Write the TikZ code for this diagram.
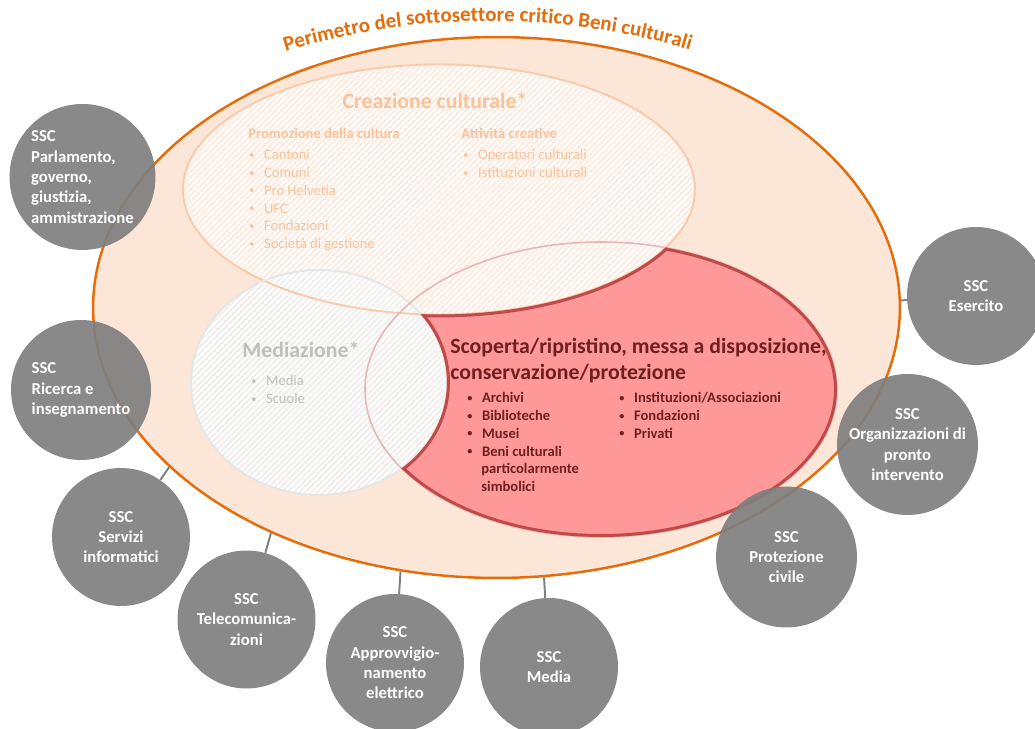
\documentclass[tikz,border=0pt]{standalone}
\usepackage{fontspec}
\setmainfont{Carlito}
\usetikzlibrary{shapes.geometric,patterns.meta,decorations.text}
\definecolor{perimorange}{HTML}{E46C0A}
\definecolor{perimfill}{HTML}{FBE6D8}
\definecolor{creafill}{HTML}{FCEDE2}
\definecolor{crealine}{HTML}{F8CBAD}
\definecolor{creatext}{HTML}{F9C29A}
\definecolor{medfill}{HTML}{F2F2F2}
\definecolor{medline}{HTML}{E6E6E6}
\definecolor{medtext}{HTML}{BFBFBF}
\definecolor{critfill}{HTML}{FF9999}
\definecolor{critline}{HTML}{BF4B48}
\definecolor{crittext}{HTML}{6E1F1F}
\definecolor{sscgray}{HTML}{7F7F7F}
\newcommand{\blt}{\makebox[8.4pt][l]{\raisebox{0.2ex}{\scalebox{0.7}{\textbullet}}}}

\begin{document}
\begin{tikzpicture}[
  x=0.02cm, y=0.02cm,
  ssc/.style={circle, fill=sscgray, fill opacity=0.92, text opacity=1, text=white,
    font=\bfseries\fontsize{9.5}{11.6}\selectfont, align=center, inner sep=0pt, minimum size=2.76cm},
  link/.style={draw=sscgray, line width=1.1pt},
  hatch/.style={pattern={Lines[angle=45,distance=2.4pt,line width=0.9pt]}, pattern color=white},
  creahead/.style={font=\bfseries\fontsize{12.4}{14}\selectfont, text=creatext, inner sep=0pt},
  creasub/.style={font=\bfseries\fontsize{8.3}{10}\selectfont, text=creatext, inner sep=0pt, anchor=base west},
  crealist/.style={font=\fontsize{8.3}{10}\selectfont, text=creatext, inner sep=0pt, anchor=base west},
  medhead/.style={font=\bfseries\fontsize{12.4}{14}\selectfont, text=medtext, inner sep=0pt, anchor=base west},
  medlist/.style={font=\fontsize{8.3}{10}\selectfont, text=medtext, inner sep=0pt, anchor=base west},
  crithead/.style={font=\bfseries\fontsize{12.4}{14}\selectfont, text=crittext, inner sep=0pt, anchor=base west},
  critlist/.style={font=\bfseries\fontsize{8.3}{10}\selectfont, text=crittext, inner sep=0pt, anchor=base west},
]
\useasboundingbox (0,0) rectangle (1035,729);

% perimeter of the sub-sector
\node[ellipse, fill=perimfill, draw=perimorange, line width=1.4pt,
  minimum width=16.14cm, minimum height=10.82cm, inner sep=0pt] (perim) at (496.5,421.5) {};
\path[decorate, decoration={text along path, text align=center, text color=perimorange,
  text={|\bfseries\fontsize{11.9}{14}\selectfont|Perimetro del sottosettore critico Beni culturali}}]
  (490,4) ++(110.2:704) arc[start angle=110.2, end angle=70.2, radius=704];

% creation and mediation
\fill[creafill] (439,539.5) ellipse [x radius=256, y radius=125];
\fill[medfill, fill opacity=0.9] (319,346.5) ellipse [x radius=128, y radius=112.5];
\fill[hatch] (439,539.5) ellipse [x radius=256, y radius=125];
\fill[hatch] (319,346.5) ellipse [x radius=128, y radius=112.5];
\draw[crealine, line width=1.1pt] (439,539.5) ellipse [x radius=256, y radius=125];
\draw[medline, line width=1.1pt] (319,346.5) ellipse [x radius=128, y radius=112.5];
\draw[critline!40, line width=0.9pt] (601,339.5) ellipse [x radius=236, y radius=147.5];

% critical part: red ellipse without the other two
\begin{scope}
  \clip (601,339.5) ellipse [x radius=236, y radius=147.5];
  \clip (0,0) -- (0,729) -- (1035,729) -- (1035,0) -- cycle
    (439,539.5) ellipse [x radius=256, y radius=125];
  \clip (0,0) -- (0,729) -- (1035,729) -- (1035,0) -- cycle
    (319,346.5) ellipse [x radius=128, y radius=112.5];
  \fill[critfill] (0,0) rectangle (1035,729);
  \draw[critline, line width=3.4pt] (601,339.5) ellipse [x radius=236, y radius=147.5];
  \draw[critline, line width=3.4pt] (439,539.5) ellipse [x radius=256, y radius=125];
  \draw[critline, line width=3.4pt] (319,346.5) ellipse [x radius=128, y radius=112.5];
\end{scope}

% texts
\node[creahead, anchor=base] (creatitle) at (435,620) {Creazione culturale*};
\node[creasub] (promo) at (248,590) {Promozione della cultura};
\foreach \t [count=\i from 0] in {Cantoni,Comuni,Pro Helvetia,UFC,Fondazioni,Società di gestione}
  \node[crealist] (promo\i) at (249,{569-17.7*\i}) {\blt\t};
\node[creasub] (attiv) at (461,590) {Attività creative};
\foreach \t [count=\i from 0] in {Operatori culturali,Istituzioni culturali}
  \node[crealist] (attiv\i) at (463,{569-17.7*\i}) {\blt\t};

\node[medhead] (medtitle) at (242,371) {Mediazione*};
\node[medlist] (med0) at (251,343) {\blt Media};
\node[medlist] (med1) at (251,325) {\blt Scuole};

\node[crithead] (scoperta) at (450,375) {Scoperta/ripristino, messa a disposizione,};
\node[crithead] (conserv) at (450,349) {conservazione/protezione};
\foreach \t [count=\i from 0] in {Archivi,Biblioteche,Musei,Beni culturali}
  \node[critlist] (bene\i) at (467,{326-17.7*\i}) {\blt\t};
\node[critlist] (bene4) at (481,255.2) {particolarmente};
\node[critlist] (bene5) at (481,237.5) {simbolici};
\foreach \t [count=\i from 0] in {Instituzioni/Associazioni,Fondazioni,Privati}
  \node[critlist] (ente\i) at (619,{326-17.7*\i}) {\blt\t};

% other critical sub-sectors
\node[ssc, minimum size=2.92cm, align=left] (parl) at (82.5,552) {SSC\\Parlamento,\\governo,\\giustizia,\\ammistrazione};
\node[ssc, minimum size=2.8cm, align=left] (ricerca) at (81,339) {SSC\\Ricerca e\\insegnamento};
\node[ssc] (servizi) at (121,192) {SSC\\Servizi\\informatici};
\node[ssc] (telecom) at (246.5,109.5) {SSC\\Telecomunica-\\zioni};
\node[ssc] (energia) at (395,66) {SSC\\Approvvigio-\\namento\\elettrico};
\node[ssc] (media) at (549,62) {SSC\\Media};
\node[ssc, minimum size=2.82cm] (protciv) at (786.5,172) {SSC\\Protezione\\civile};
\node[ssc, minimum size=2.82cm] (pronto) at (907.5,284.5) {SSC\\Organizzazioni di\\pronto\\intervento};
\node[ssc] (esercito) at (976,433) {SSC\\Esercito};

\draw[link] (perim.1) -- (esercito);
\draw[link] (perim.206) -- (servizi);
\draw[link] (perim.225) -- (telecom);
\draw[link] (perim.250) -- (energia);
\draw[link] (perim.280) -- (media);
\end{tikzpicture}
\end{document}
